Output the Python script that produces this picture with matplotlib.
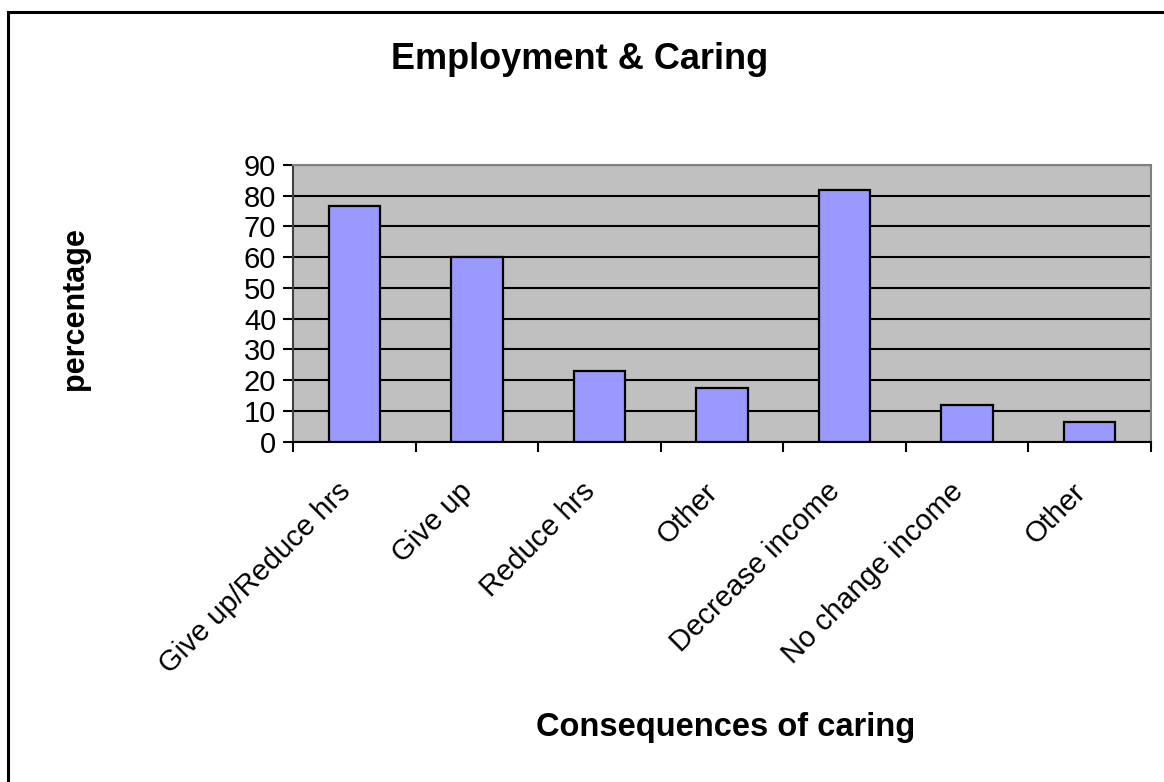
import matplotlib
matplotlib.use("Agg")
import matplotlib.pyplot as plt
import matplotlib.patches as patches
import numpy as np

# Consequences of caring on employment (percent of carers)
categories = ["Give up/Reduce hrs", "Give up", "Reduce hrs", "Other",
              "Decrease income", "No change income", "Other"]
percentages = [76.5, 60, 23, 17.5, 82, 12, 6.5]
y_ticks = [0, 10, 20, 30, 40, 50, 60, 70, 80, 90]

plt.rcParams['font.family'] = ['Liberation Sans', 'DejaVu Sans']

fig = plt.figure(figsize=(11.64, 7.82), dpi=100)
fig.patch.set_facecolor('white')

# outer chart border, running off the right and bottom edges
border = patches.Rectangle((8 / 1164, -0.05), 1.2, 1 - 12 / 782 + 0.05,
                           transform=fig.transFigure, fill=False,
                           edgecolor='black', linewidth=2.2, zorder=0)
fig.add_artist(border)

ax = fig.add_axes([0.2517, 0.4354, 0.9888 - 0.2517, 0.789 - 0.4354])
ax.set_facecolor('#C0C0C0')

x = np.arange(len(categories))
ax.set_axisbelow(True)
ax.yaxis.grid(True, color='black', linewidth=1.5)
ax.bar(x, percentages, width=0.42, color='#9999FF', edgecolor='black',
       linewidth=1.6, zorder=3)

ax.set_xlim(-0.5, len(categories) - 0.5)
ax.set_ylim(0, 90)
ax.set_yticks(y_ticks)
ax.set_yticklabels([str(v) for v in y_ticks], fontsize=21)

# ticks sit on category boundaries, labels under the bar centres
ax.set_xticks(np.arange(len(categories) + 1) - 0.5)
ax.set_xticklabels([])
ax.tick_params(axis='x', direction='out', length=7, width=1.5, color='black')
ax.tick_params(axis='y', direction='out', length=7, width=1.5, color='black', pad=5)

for xi, lab in zip(x, categories):
    ax.annotate(lab, xy=(xi, 0), xycoords=('data', 'axes fraction'),
                xytext=(-6, -33), textcoords='offset points',
                rotation=45, rotation_mode='anchor', ha='right', va='center',
                fontsize=21)

for side in ['top', 'right']:
    ax.spines[side].set_color('#808080')
    ax.spines[side].set_linewidth(1.5)
ax.spines['left'].set_color('#404040')
ax.spines['left'].set_linewidth(1.5)
ax.spines['bottom'].set_color('black')
ax.spines['bottom'].set_linewidth(1.5)

fig.text(0.498, 0.924, "Employment & Caring", ha='center', va='center',
         fontsize=26, fontweight='bold')
fig.text(0.623, 0.0703, "Consequences of caring", ha='center', va='center',
         fontsize=23.5, fontweight='bold')
fig.text(0.0644, 0.606, "percentage", ha='center', va='center',
         rotation=90, fontsize=22, fontweight='bold')

fig.savefig("out.png", dpi=100)
